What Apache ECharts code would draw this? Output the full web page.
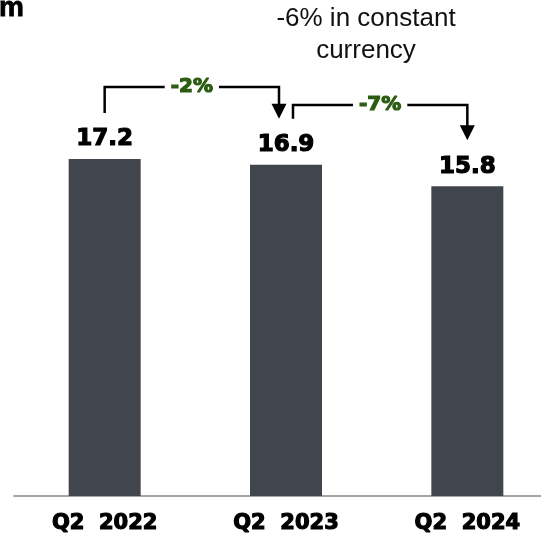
<!DOCTYPE html>
<html>
<head>
<meta charset="utf-8">
<script src="https://cdn.jsdelivr.net/npm/echarts@6/dist/echarts.min.js"></script>
<style>
  html, body { margin: 0; padding: 0; background: #fff; overflow: hidden; width: 541px; height: 538px; }
  /* plot runs past the right edge like the source slide, so the div is wider than the window */
  #chart { width: 558px; height: 538px; }
</style>
</head>
<body>
<div id="chart"></div>
<script>
const categories = ['Q2  2022', 'Q2  2023', 'Q2  2024'];
const values = [17.2, 16.9, 15.8];
const changeLabels = ['-2%', '-7%'];
const noteLines = ['-6% in constant', 'currency'];

const BAR = '#41464e';
const GREEN = '#2b5c11';
const HEAVY = '"DejaVu Sans"';

const chart = echarts.init(document.getElementById('chart'));

chart.setOption({
  animation: false,
  grid: { left: 14, right: 0, top: 104, bottom: 42 },
  xAxis: {
    type: 'category',
    data: categories,
    axisTick: { show: false },
    axisLine: { lineStyle: { color: '#a6a6a6', width: 2 } },
    axisLabel: {
      color: '#000',
      fontFamily: HEAVY,
      fontWeight: 'bold',
      fontSize: 21,
      margin: 17,
      textBorderColor: '#000',
      textBorderWidth: 1.2
    }
  },
  yAxis: {
    type: 'value',
    min: 0,
    max: 20,
    show: false
  },
  series: [{
    type: 'bar',
    data: values,
    barWidth: 72,
    itemStyle: { color: BAR },
    label: {
      show: true,
      position: 'top',
      distance: 8,
      color: '#000',
      fontFamily: HEAVY,
      fontWeight: 'bold',
      fontSize: 23,
      textBorderColor: '#000',
      textBorderWidth: 1.2,
      formatter: p => p.value.toFixed(1)
    }
  }]
});

// bracket annotations between consecutive bars, placed from the bars' own pixels
const tops = values.map((v, i) => chart.convertToPixel({ seriesIndex: 0 }, [i, v]));
const liftHigh = [72, 60];
const graphics = [];

changeLabels.forEach((txt, i) => {
  const a = tops[i], b = tops[i + 1];
  const x0 = i === 0 ? a[0] : a[0] + 7;
  const x1 = i === 0 ? b[0] - 7 : b[0];
  const yTop = Math.round(a[1] - liftHigh[i]);
  const yStart = a[1] - 46;
  const yTip = b[1] - 46;
  graphics.push({
    type: 'polyline',
    shape: { points: [[x0, yStart], [x0, yTop], [x1, yTop], [x1, yTip - 12]] },
    style: { stroke: '#000', lineWidth: 2.5, fill: null }
  });
  graphics.push({
    type: 'polygon',
    shape: { points: [[x1 - 7.5, yTip - 15], [x1 + 7.5, yTip - 15], [x1, yTip]] },
    style: { fill: '#000' }
  });
  graphics.push({
    type: 'text',
    x: (x0 + x1) / 2,
    y: yTop,
    style: {
      text: txt,
      fill: GREEN,
      font: 'bold 20px ' + HEAVY,
      stroke: GREEN,
      lineWidth: 1.2,
      align: 'center',
      verticalAlign: 'middle',
      backgroundColor: '#fff',
      padding: [0, 6]
    }
  });
});

graphics.push({
  type: 'text',
  x: -1,
  y: 8,
  style: {
    text: 'm',
    fill: '#000',
    font: 'bold 28px "Liberation Sans"',
    stroke: '#000',
    lineWidth: 0.8,
    verticalAlign: 'middle'
  }
});

noteLines.forEach((t, i) => {
  graphics.push({
    type: 'text',
    x: 366,
    y: 19 + i * 32,
    style: {
      text: t,
      fill: '#111',
      font: '26px "Liberation Sans"',
      align: 'center',
      verticalAlign: 'middle'
    }
  });
});

chart.setOption({ graphic: graphics });
</script>
</body>
</html>
